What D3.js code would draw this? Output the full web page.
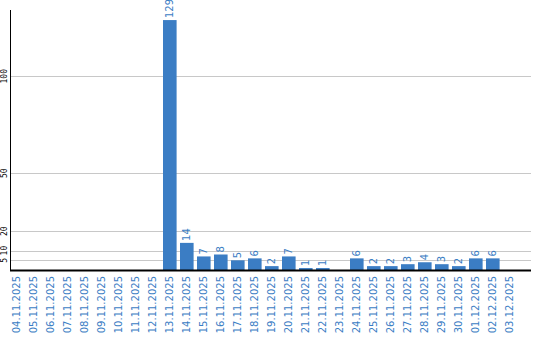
<!DOCTYPE html>
<html>
<head>
<meta charset="utf-8">
<script src="https://cdn.jsdelivr.net/npm/d3@7"></script>
<style>
  body { margin: 0; background: #fff; }
  svg { display: block; }
</style>
</head>
<body>
<div class="chart"></div>
<script>
// dates on the x axis
const dates = ['04.11.2025', '05.11.2025', '06.11.2025', '07.11.2025', '08.11.2025',
  '09.11.2025', '10.11.2025', '11.11.2025', '12.11.2025', '13.11.2025', '14.11.2025',
  '15.11.2025', '16.11.2025', '17.11.2025', '18.11.2025', '19.11.2025', '20.11.2025',
  '21.11.2025', '22.11.2025', '23.11.2025', '24.11.2025', '25.11.2025', '26.11.2025',
  '27.11.2025', '28.11.2025', '29.11.2025', '30.11.2025', '01.12.2025', '02.12.2025',
  '03.12.2025'];
const counts = [0, 0, 0, 0, 0, 0, 0, 0, 0, 129, 14, 7, 8, 5, 6, 2, 7, 1, 1, 0,
  6, 2, 2, 3, 4, 3, 2, 6, 6, 0];
const yTicks = [5, 10, 20, 50, 100];

const width = 540, height = 340;
const plotLeft = 10, plotRight = 531, plotTop = 10, plotBottom = 270;
const blue = '#3b7dc4';

const svg = d3.select('.chart').append('svg')
  .attr('width', width)
  .attr('height', height);

const data = dates.map((d, i) => ({ date: d, value: counts[i] }));

const x = d3.scaleBand()
  .domain(dates)
  .range([plotLeft, plotLeft + 30 * 17])
  .paddingInner(0.2)
  .paddingOuter(0.1)
  .align(0);

const y = d3.scaleLinear()
  .domain([0, 134.2])
  .range([plotBottom, plotTop]);

// grid lines
svg.append('g')
  .selectAll('line')
  .data(yTicks)
  .join('line')
    .attr('x1', plotLeft)
    .attr('x2', plotRight)
    .attr('y1', d => Math.round(y(d)) + 0.5)
    .attr('y2', d => Math.round(y(d)) + 0.5)
    .attr('stroke', '#c8c8c8');

// y tick labels, rotated
svg.append('g')
  .selectAll('text')
  .data(yTicks)
  .join('text')
    .attr('transform', d => `translate(7, ${y(d)}) rotate(-90)`)
    .attr('text-anchor', 'middle')
    .attr('font-family', 'DejaVu Sans Mono')
    .attr('font-size', 8)
    .attr('fill', '#000')
    .text(d => d);

// bars
svg.append('g')
  .selectAll('rect')
  .data(data.filter(d => d.value > 0))
  .join('rect')
    .attr('x', d => x(d.date))
    .attr('y', d => y(d.value))
    .attr('width', x.bandwidth())
    .attr('height', d => plotBottom - y(d.value))
    .attr('fill', blue);

// value labels
svg.append('g')
  .selectAll('text')
  .data(data.filter(d => d.value > 0))
  .join('text')
    .attr('transform', d => `translate(${x(d.date) + x.bandwidth() / 2 + 3.5}, ${y(d.value) - 2}) rotate(-90)`)
    .attr('font-family', 'DejaVu Sans')
    .attr('font-size', 10)
    .attr('fill', blue)
    .text(d => d.value);

// axes lines
svg.append('line')
  .attr('x1', 10.5).attr('x2', 10.5)
  .attr('y1', plotTop).attr('y2', plotBottom)
  .attr('stroke', '#000');
svg.append('line')
  .attr('x1', plotLeft).attr('x2', plotRight)
  .attr('y1', plotBottom + 0.5).attr('y2', plotBottom + 0.5)
  .attr('stroke', '#000')
  .attr('stroke-width', 2);

// date labels
svg.append('g')
  .selectAll('text')
  .data(dates)
  .join('text')
    .attr('transform', d => `translate(${x(d) + x.bandwidth() / 2 + 3.5}, 276) rotate(-90)`)
    .attr('text-anchor', 'end')
    .attr('font-family', 'DejaVu Sans')
    .attr('font-size', 10)
    .attr('fill', blue)
    .text(d => d);
</script>
</body>
</html>
